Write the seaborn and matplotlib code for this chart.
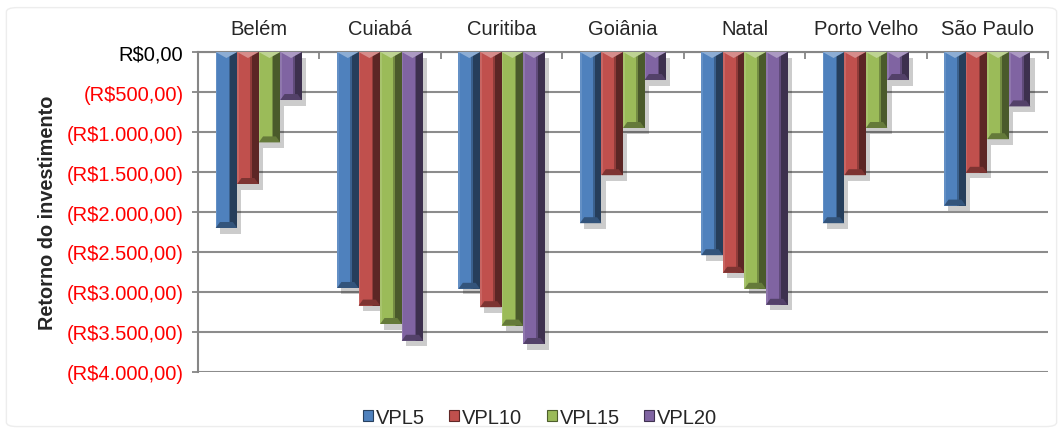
import numpy as np
import pandas as pd
import seaborn as sns
import matplotlib
matplotlib.use("Agg")
import matplotlib.pyplot as plt
import matplotlib.patheffects as pe
from matplotlib.colors import to_rgb
from matplotlib.patches import FancyBboxPatch, Rectangle, Polygon
from matplotlib.ticker import FuncFormatter, MultipleLocator, FixedLocator

cities = ["Belém", "Cuiabá", "Curitiba", "Goiânia", "Natal", "Porto Velho", "São Paulo"]
series = ["VPL5", "VPL10", "VPL15", "VPL20"]
vpl5 = [-2200, -2950, -2960, -2140, -2540, -2140, -1920]
vpl10 = [-1650, -3170, -3190, -1540, -2760, -1540, -1510]
vpl15 = [-1130, -3400, -3420, -950, -2960, -950, -1090]
vpl20 = [-600, -3610, -3650, -350, -3160, -350, -680]
colors = ["#4F81BD", "#C0504D", "#9BBB59", "#8064A2"]

df = pd.DataFrame({
    "cidade": np.tile(cities, len(series)),
    "serie": np.repeat(series, len(cities)),
    "valor": vpl5 + vpl10 + vpl15 + vpl20,
})

sns.set_style("white")
plt.rcParams["font.family"] = ["Liberation Sans", "DejaVu Sans"]

fig = plt.figure(figsize=(10.63, 4.31), dpi=100)
ax = fig.add_axes([0.1863, 0.1346, 0.7996, 0.7424])

# faint frame around the whole chart
fig.patches.append(FancyBboxPatch((0.006, 0.008), 0.988, 0.972,
                                  boxstyle="round,pad=0,rounding_size=0.01",
                                  transform=fig.transFigure, facecolor="none",
                                  edgecolor="#EDEDED", linewidth=1.0))

sns.barplot(data=df, x="cidade", y="valor", hue="serie", order=cities,
            hue_order=series, palette=colors, width=0.71, gap=0, linewidth=0,
            saturation=1, errorbar=None, ax=ax, legend=False, zorder=3)

ax.set_xlim(-0.5, len(cities) - 0.5)
ax.set_ylim(-4000, 0)

def mix(rgb, k):
    rgb = np.array(rgb)
    return tuple(np.clip(rgb + (1 - rgb) * k, 0, 1)) if k > 0 else tuple(rgb * (1 + k))

# bevel depth of about 6 pixels, expressed in data units
px_to_val = 4000 / (ax.get_window_extent().height)
bevel = 6 * px_to_val

# bevelled look: lit left edge, shaded right face, chevron top and darker base
bars = list(ax.patches)
for i, patch in enumerate(bars):
    base = to_rgb(colors[i // len(cities)])
    patch.set_edgecolor("none")
    patch.set_path_effects([pe.SimplePatchShadow(offset=(3, -4), shadow_rgbFace="black", alpha=0.2),
                            pe.Normal()])
    x0, w, h = patch.get_x(), patch.get_width(), patch.get_height()
    pieces = [
        Rectangle((x0, 0), 0.08 * w, h, facecolor=mix(base, 0.12)),
        Rectangle((x0 + 0.60 * w, 0), 0.08 * w, h, facecolor=mix(base, -0.25)),
        Rectangle((x0 + 0.68 * w, 0), 0.32 * w, h, facecolor=mix(base, -0.52)),
        Polygon([(x0, 0), (x0 + w, 0), (x0 + w / 2, -bevel)], closed=True,
                facecolor=mix(base, 0.35)),
        Polygon([(x0, h), (x0 + w, h), (x0 + 0.8 * w, h + bevel), (x0 + 0.2 * w, h + bevel)],
                closed=True, facecolor=mix(base, -0.35)),
    ]
    for piece in pieces:
        piece.set_linewidth(0)
        piece.set_zorder(4)
        ax.add_patch(piece)

# y axis in Brazilian currency, negatives in parentheses and red
def brl(v, pos=None):
    s = f"{abs(v):,.2f}".replace(",", "X").replace(".", ",").replace("X", ".")
    return f"(R${s})" if v < 0 else f"R${s}"

ax.yaxis.set_major_locator(MultipleLocator(500))
ax.yaxis.set_major_formatter(FuncFormatter(brl))
ax.tick_params(axis="y", labelsize=14.5, length=4.5, width=1.3, color="#868686",
               pad=6, left=True)
for lbl in ax.get_yticklabels():
    lbl.set_color("red" if lbl.get_position()[1] < 0 else "black")

ax.grid(axis="y", color="#8C8C8C", linewidth=1.5, zorder=0)
ax.set_axisbelow(True)

# categories along the top, with small inward ticks between groups
ax.xaxis.tick_top()
ax.tick_params(axis="x", which="major", labelsize=14.5, length=0, pad=10, top=True)
ax.xaxis.set_minor_locator(FixedLocator(np.arange(-0.5, len(cities), 1.0)))
ax.tick_params(axis="x", which="minor", direction="in", length=5, width=1.3,
               color="#868686", top=True, bottom=False)
ax.set_xlabel("")
ax.set_ylabel("Retorno do investimento", fontsize=14.3, fontweight="bold", labelpad=7)

for side in ["right", "bottom"]:
    ax.spines[side].set_visible(False)
for side in ["left", "top"]:
    ax.spines[side].set_color("#868686")
    ax.spines[side].set_linewidth(1.5)

handles = [plt.Rectangle((0, 0), 1, 1, facecolor=c, edgecolor=mix(to_rgb(c), -0.5),
                         linewidth=0.8) for c in colors]
fig.legend(handles, series, loc="center", bbox_to_anchor=(0.508, 0.03), ncol=4,
           frameon=False, fontsize=14.5, handlelength=0.5, handleheight=0.5,
           handletextpad=0.15, columnspacing=1.2)

fig.savefig("out.png", dpi=100)
